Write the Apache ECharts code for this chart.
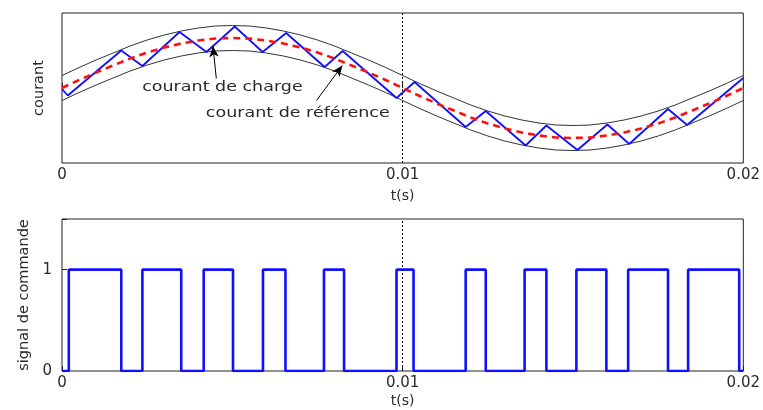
<!DOCTYPE html>
<html>
<head>
<meta charset="utf-8">
<script src="https://cdn.jsdelivr.net/npm/echarts@6/dist/echarts.min.js"></script>
<style>html,body{margin:0;padding:0;background:#fff}#c{width:763px;height:410px}</style>
</head>
<body>
<div id="c"></div>
<script>
// Sampling step of the reference / envelope curves (s)
const refStep = 0.0005;
// Reference current (courant de référence)
const refValues = [0,0.16,0.31,0.45,0.59,0.71,0.81,0.89,0.95,0.99,1.00,0.99,0.95,0.89,0.81,0.71,0.59,0.45,0.31,0.16,0,
  -0.16,-0.31,-0.45,-0.59,-0.71,-0.81,-0.89,-0.95,-0.99,-1.00,-0.99,-0.95,-0.89,-0.81,-0.71,-0.59,-0.45,-0.31,-0.16,0];
// Hysteresis band: upper and lower envelope
const upperValues = [0.25,0.41,0.56,0.70,0.84,0.96,1.06,1.14,1.20,1.24,1.25,1.24,1.20,1.14,1.06,0.96,0.84,0.70,0.56,0.41,0.25,
  0.09,-0.06,-0.20,-0.34,-0.46,-0.56,-0.64,-0.70,-0.74,-0.75,-0.74,-0.70,-0.64,-0.56,-0.46,-0.34,-0.20,-0.06,0.09,0.25];
const lowerValues = [-0.25,-0.09,0.06,0.20,0.34,0.46,0.56,0.64,0.70,0.74,0.75,0.74,0.70,0.64,0.56,0.46,0.34,0.20,0.06,-0.09,-0.25,
  -0.41,-0.56,-0.70,-0.84,-0.96,-1.06,-1.14,-1.20,-1.24,-1.25,-1.24,-1.20,-1.14,-1.06,-0.96,-0.84,-0.70,-0.56,-0.41,-0.25];
// Load current (courant de charge) vertices
const loadTimes = [0,0.00017,0.00174,0.00236,0.00345,0.00424,0.00507,0.00589,0.00658,0.00771,0.00824,0.00982,0.01035,
  0.01185,0.01244,0.01361,0.01422,0.01513,0.01601,0.01665,0.01779,0.01835,0.02];
const loadValues = [-0.02,-0.15,0.75,0.44,1.12,0.72,1.23,0.72,1.10,0.42,0.74,-0.20,0.12,
  -0.78,-0.46,-1.15,-0.75,-1.24,-0.73,-1.12,-0.42,-0.74,0.20];
// Command signal: switching instants and level held from each instant
const sigTimes = [0,0.00020,0.00174,0.00236,0.00350,0.00416,0.00502,0.00590,0.00656,0.00769,0.00828,0.00982,0.01032,
  0.01185,0.01244,0.01358,0.01422,0.01510,0.01598,0.01662,0.01779,0.01838,0.01988,0.02];
const sigLevels = [0,1,0,1,0,1,0,1,0,1,0,1,0,1,0,1,0,1,0,1,0,1,0,0];
// Axis ticks
const xTicks = [0, 0.01, 0.02];
const sigTicks = [0, 1];
// Annotations (data coordinates)
const chargeText = 'courant de charge', chargeTextAt = [0.00471, 0.01], chargeArrow = [[0.00453, 0.19], [0.00443, 0.84]];
const refText = 'courant de référence', refTextAt = [0.00692, -0.51], refArrow = [[0.00747, -0.25], [0.00823, 0.45]];

const FONT = 'DejaVu Sans';
const TXT = '#2a2a2a';

const curve = vals => vals.map((v, i) => [+(i * refStep).toFixed(5), v]);
const loadData = loadTimes.map((t, i) => [t, loadValues[i]]);
const sigData = [];
for (let i = 0; i < sigTimes.length - 1; i++) {
  sigData.push([sigTimes[i], sigLevels[i]]);
  sigData.push([sigTimes[i + 1], sigLevels[i]]);
}
sigData.push([sigTimes[sigTimes.length - 1], sigLevels[sigLevels.length - 1]]);

const chart = echarts.init(document.getElementById('c'), null, {renderer: 'canvas'});

const xAxisBase = (gi, gap) => ({
  type: 'value', gridIndex: gi, min: xTicks[0], max: xTicks[2], interval: xTicks[1] - xTicks[0],
  name: 't(s)', nameLocation: 'middle', nameGap: gap,
  nameTextStyle: {fontFamily: FONT, fontSize: 14, color: TXT},
  axisLine: {show: false},
  axisTick: {show: true, inside: true, length: 5, lineStyle: {color: '#222'}},
  axisLabel: {fontFamily: FONT, fontSize: 15, color: TXT, margin: 5,
    formatter: v => String(+v.toFixed(3))},
  splitLine: {show: false}
});

const vline = {
  silent: true, symbol: ['none', 'none'], animation: false,
  label: {show: false},
  lineStyle: {color: '#000', type: [2, 2], width: 1},
  data: [{xAxis: xTicks[1]}]
};

const option = {
  animation: false,
  backgroundColor: '#fff',
  grid: [
    {left: 62, right: 19, top: 13, height: 150, show: true, borderColor: '#222', borderWidth: 1},
    {left: 62, right: 19, top: 219, height: 152, show: true, borderColor: '#222', borderWidth: 1}
  ],
  xAxis: [xAxisBase(0, 26), xAxisBase(1, 23)],
  yAxis: [
    {type: 'value', gridIndex: 0, min: -1.5, max: 1.5,
      name: 'courant', nameLocation: 'middle', nameGap: 15,
      nameTextStyle: {fontFamily: FONT, fontSize: 14.5, color: TXT},
      axisLine: {show: false}, axisTick: {show: false}, axisLabel: {show: false}, splitLine: {show: false}},
    {type: 'value', gridIndex: 1, min: 0, max: 1.5, interval: 1,
      name: 'signal de commande', nameLocation: 'middle', nameGap: 30,
      nameTextStyle: {fontFamily: FONT, fontSize: 14.5, color: TXT},
      axisLine: {show: false},
      axisTick: {show: true, inside: true, length: 5, lineStyle: {color: '#222'}},
      axisLabel: {fontFamily: FONT, fontSize: 15, color: TXT, margin: 10,
        formatter: v => (sigTicks.indexOf(v) >= 0 ? String(v) : '')},
      splitLine: {show: false}}
  ],
  series: [
    {type: 'line', xAxisIndex: 0, yAxisIndex: 0, data: curve(upperValues), symbol: 'none',
      lineStyle: {color: '#333', width: 1}, markLine: vline, z: 2},
    {type: 'line', xAxisIndex: 0, yAxisIndex: 0, data: curve(lowerValues), symbol: 'none',
      lineStyle: {color: '#333', width: 1}, z: 2},
    {type: 'line', xAxisIndex: 0, yAxisIndex: 0, data: loadData, symbol: 'none',
      lineStyle: {color: '#1010ff', width: 1.8}, z: 3},
    {type: 'line', xAxisIndex: 0, yAxisIndex: 0, data: curve(refValues), symbol: 'none',
      lineStyle: {color: '#ff1010', width: 2.6, type: [7, 5]}, z: 4,
      markLine: {
        silent: true, animation: false, symbol: ['none', 'arrow'], symbolSize: [7, 11],
        label: {show: false},
        lineStyle: {color: '#000', type: 'solid', width: 1},
        data: [
          [{coord: chargeArrow[0]}, {coord: chargeArrow[1]}],
          [{coord: refArrow[0]}, {coord: refArrow[1]}]
        ]
      }},
    {type: 'line', xAxisIndex: 1, yAxisIndex: 1, data: sigData, symbol: 'none',
      lineStyle: {color: '#1010ff', width: 2.6}, markLine: vline, z: 3}
  ]
};
chart.setOption(option);

const p1 = chart.convertToPixel({xAxisIndex: 0, yAxisIndex: 0}, chargeTextAt);
const p2 = chart.convertToPixel({xAxisIndex: 0, yAxisIndex: 0}, refTextAt);
const label = (p, t) => ({
  type: 'text', x: p[0], y: p[1], scaleX: 1.25, z: 10,
  style: {text: t, fontFamily: FONT, fontSize: 14, fill: TXT, align: 'center', verticalAlign: 'middle'}
});
chart.setOption({graphic: [label(p1, chargeText), label(p2, refText)]});
</script>
</body>
</html>
